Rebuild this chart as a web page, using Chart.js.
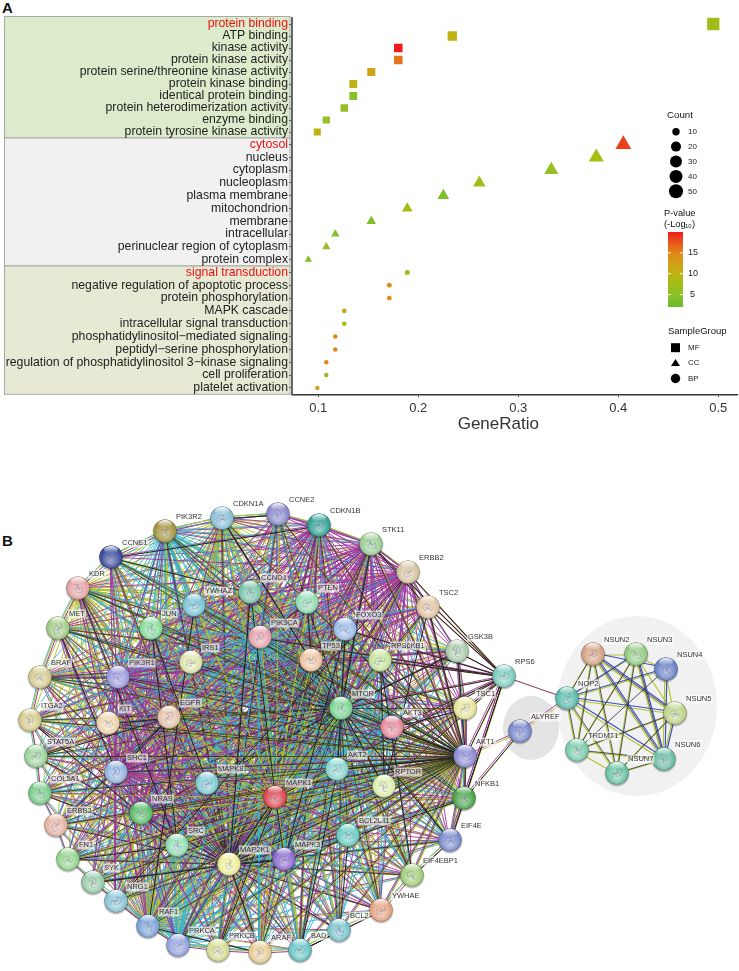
<!DOCTYPE html>
<html>
<head>
<meta charset="utf-8">
<script src="https://cdn.jsdelivr.net/npm/chart.js@4"></script>
<style>
body { margin: 0; background: #fff; font-family: "Liberation Sans", Arial, sans-serif; }
canvas { position: absolute; left: 0; }
.tag { position: absolute; left: 2px; font: bold 15px "Liberation Sans", Arial, sans-serif; color: #111; }
</style>
</head>
<body>
<div class="tag" style="top:-1px">A</div>
<div class="tag" style="top:532px">B</div>
<canvas id="dotChart" width="739" height="445" style="top:0"></canvas>
<canvas id="netChart" width="739" height="501" style="top:470px"></canvas>
<script>
const FONT = '"Liberation Sans", Arial, sans-serif';

// Panel A
const mfTerms = ['protein binding', 'ATP binding', 'kinase activity', 'protein kinase activity', 'protein serine/threonine kinase activity', 'protein kinase binding', 'identical protein binding', 'protein heterodimerization activity', 'enzyme binding', 'protein tyrosine kinase activity'];
const mfRatio = [0.495, 0.234, 0.18, 0.18, 0.153, 0.135, 0.135, 0.126, 0.108, 0.099];
const mfCount = [55, 26, 20, 20, 17, 15, 15, 14, 12, 11];
const mfLogP = [7, 10, 20, 16, 12, 10, 5, 6, 6, 10];

const ccTerms = ['cytosol', 'nucleus', 'cytoplasm', 'nucleoplasm', 'plasma membrane', 'mitochondrion', 'membrane', 'intracellular', 'perinuclear region of cytoplasm', 'protein complex'];
const ccRatio = [0.405, 0.378, 0.333, 0.261, 0.225, 0.189, 0.153, 0.117, 0.108, 0.09];
const ccCount = [45, 42, 37, 29, 25, 21, 17, 13, 12, 10];
const ccLogP = [18.5, 8, 6, 7, 3.5, 8, 3.5, 4, 5.5, 4];

const bpTerms = ['signal transduction', 'negative regulation of apoptotic process', 'protein phosphorylation', 'MAPK cascade', 'intracellular signal transduction', 'phosphatidylinositol\u2212mediated signaling', 'peptidyl\u2212serine phosphorylation', 'regulation of phosphatidylinositol 3\u2212kinase signaling', 'cell proliferation', 'platelet activation'];
const bpRatio = [0.189, 0.171, 0.171, 0.126, 0.126, 0.117, 0.117, 0.108, 0.108, 0.099];
const bpCount = [21, 19, 19, 14, 14, 13, 13, 12, 12, 11];
const bpLogP = [7, 14, 14, 12, 8, 15, 15, 15, 5, 12];

const xTicks = [0.1, 0.2, 0.3, 0.4, 0.5];
const countLegend = [10, 20, 30, 40, 50];
const pLegend = [15, 10, 5];
const groupLegend = ['MF', 'CC', 'BP'];

// colour bar stops, value then colour
const pStops = [[2, [111, 186, 44]], [5, [140, 193, 42]], [8, [168, 188, 20]], [10, [191, 179, 18]], [13, [213, 154, 24]], [15, [224, 133, 26]], [17, [232, 96, 26]], [20, [238, 28, 28]]];

function pColor(v) {
  for (let i = 1; i < pStops.length; i++) {
    if (v <= pStops[i][0]) {
      const a = pStops[i - 1], b = pStops[i];
      const t = (v - a[0]) / (b[0] - a[0]);
      const c = a[1].map((k, j) => Math.round(k + (b[1][j] - k) * t));
      return `rgb(${c[0]},${c[1]},${c[2]})`;
    }
  }
  return 'rgb(238,28,28)';
}

function dotSet(axis, terms, ratio, count, logP, style, radius) {
  return {
    yAxisID: axis,
    pointStyle: style,
    data: terms.map((t, i) => ({ x: ratio[i], y: t })),
    pointRadius: count.map(radius),
    pointBorderWidth: 0,
    pointBackgroundColor: logP.map(pColor),
    showLine: false
  };
}

function termAxis(terms, weight, share) {
  return {
    type: 'category',
    labels: terms,
    offset: true,
    stack: 'terms',
    stackWeight: share,
    weight: weight,
    afterFit: s => { s.width = 292; },
    border: { color: '#666', width: 2 },
    grid: { drawOnChartArea: false, tickLength: 3, color: '#555' },
    ticks: {
      autoSkip: false,
      padding: 1,
      font: { family: FONT, size: 12.25 },
      color: c => c.index === 0 ? '#f01010' : '#222'
    }
  };
}

const panelBands = {
  id: 'panelBands',
  beforeDraw(chart) {
    const ctx = chart.ctx;
    [['yMF', '#dcebcb'], ['yCC', '#f1f1f1'], ['yBP', '#e7e9d4']].forEach(([id, fill]) => {
      const s = chart.scales[id];
      const top = id === 'yMF' ? 16.5 : s.top;
      ctx.fillStyle = fill;
      ctx.strokeStyle = '#a8a8a8';
      ctx.lineWidth = 1;
      ctx.fillRect(4.5, top, 285.5, s.bottom - top);
      ctx.strokeRect(4.5, top, 285.5, s.bottom - top);
    });
  }
};

const sideLegends = {
  id: 'sideLegends',
  afterDraw(chart) {
    const ctx = chart.ctx;
    ctx.save();
    ctx.textBaseline = 'middle';
    ctx.textAlign = 'left';
    ctx.fillStyle = '#111';
    ctx.font = `9.7px ${FONT}`;
    ctx.fillText('Count', 667, 115);
    ctx.font = `9.3px ${FONT}`;
    ctx.fillText('P-value', 664, 213);
    ctx.fillText('(-Log', 664, 224);
    ctx.font = `9.5px ${FONT}`;
    ctx.fillText('SampleGroup', 668, 331);
    ctx.font = `6px ${FONT}`;
    ctx.fillText('10', 685, 226);
    ctx.font = `9.3px ${FONT}`;
    ctx.fillText(')', 692, 224);

    ctx.font = `8px ${FONT}`;
    const rad = [3.7, 5, 6, 6.5, 7];
    countLegend.forEach((n, i) => {
      const y = 131.7 + i * 14.9;
      ctx.fillStyle = '#000';
      ctx.beginPath();
      ctx.arc(676, y, rad[i], 0, Math.PI * 2);
      ctx.fill();
      ctx.fillStyle = '#222';
      ctx.fillText(n, 688, y);
    });

    const grad = ctx.createLinearGradient(0, 232, 0, 307);
    pStops.forEach(s => grad.addColorStop((20 - s[0]) / 18, `rgb(${s[1].join(',')})`));
    ctx.fillStyle = grad;
    ctx.fillRect(668, 232, 15, 75);
    ctx.font = `9px ${FONT}`;
    pLegend.forEach(v => {
      const y = 232 + (20 - v) * 4.17;
      ctx.fillStyle = '#fff';
      ctx.fillRect(668, y - 0.5, 3, 1);
      ctx.fillRect(680, y - 0.5, 3, 1);
      ctx.fillStyle = '#222';
      ctx.fillText(v, v > 9 ? 688 : 690, y);
    });

    ctx.font = `8px ${FONT}`;
    groupLegend.forEach((g, i) => {
      const y = 347.7 + i * 15.4;
      ctx.fillStyle = '#000';
      ctx.beginPath();
      if (g === 'MF') ctx.rect(671, y - 4.5, 9, 9);
      if (g === 'CC') { ctx.moveTo(675.5, y - 4); ctx.lineTo(680, y + 3); ctx.lineTo(671, y + 3); ctx.closePath(); }
      if (g === 'BP') ctx.arc(675.5, y, 4.7, 0, Math.PI * 2);
      ctx.fill();
      ctx.fillStyle = '#222';
      ctx.fillText(g, 688, y);
    });

    ctx.font = `17px ${FONT}`;
    ctx.fillStyle = '#333';
    ctx.textAlign = 'center';
    ctx.fillText('GeneRatio', chart.scales.x.getPixelForValue(0.28), 424);
    ctx.restore();
  }
};

new Chart(document.getElementById('dotChart'), {
  type: 'scatter',
  data: {
    datasets: [
      dotSet('yMF', mfTerms, mfRatio, mfCount, mfLogP, 'rect', c => 2 + 0.9 * Math.sqrt(c)),
      dotSet('yCC', ccTerms, ccRatio, ccCount, ccLogP, 'triangle', c => 1.35 * Math.sqrt(c)),
      dotSet('yBP', bpTerms, bpRatio, bpCount, bpLogP, 'circle', c => 1.4 + 0.24 * Math.sqrt(c))
    ]
  },
  options: {
    responsive: false,
    animation: false,
    layout: { autoPadding: false, padding: { top: 18, right: 2 } },
    plugins: { legend: { display: false }, tooltip: { enabled: false } },
    scales: {
      x: {
        type: 'linear',
        min: 0.0737,
        max: 0.5187,
        afterBuildTicks: s => { s.ticks = xTicks.map(v => ({ value: v })); },
        afterFit: s => { s.height = 50.7; s.paddingLeft = 0; s.paddingRight = 0; },
        border: { color: '#333', width: 1.5 },
        grid: { drawOnChartArea: false, tickLength: 3, color: '#555' },
        ticks: { font: { family: FONT, size: 13 }, color: '#333', padding: 3, callback: v => v.toFixed(1) }
      },
      yMF: termAxis(mfTerms, 3, 120),
      yCC: termAxis(ccTerms, 2, 128),
      yBP: termAxis(bpTerms, 1, 128.3)
    }
  },
  plugins: [panelBands, sideLegends]
});

// Panel B
const genes = ['CCNE1', 'PIK3R2', 'CDKN1A', 'CCNE2', 'CDKN1B', 'STK11', 'ERBB2', 'TSC2', 'GSK3B', 'RPS6', 'KDR', 'MET', 'BRAF', 'ITGA2', 'YWHAZ', 'CCND1', 'PTEN', 'FOXO3', 'PIK3CA', 'TP53', 'JUN', 'IRS1', 'PIK3R1', 'EGFR', 'KIT', 'MTOR', 'RPS6KB1', 'AKT3', 'TSC1', 'AKT1', 'NFKB1', 'EIF4E', 'RPTOR', 'STAT5A', 'COL5A1', 'ERBB3', 'FN1', 'SYK', 'NRG1', 'RAF1', 'PRKCA', 'PRKCB', 'ARAF', 'BAD', 'BCL2', 'YWHAE', 'EIF4EBP1', 'SHC1', 'NRAS', 'SRC', 'MAPK8', 'MAPK1', 'AKT2', 'BCL2L11', 'MAP2K1', 'MAPK3', 'ALYREF', 'NSUN2', 'NSUN3', 'NSUN4', 'NSUN5', 'NSUN6', 'NSUN7', 'TRDMT1', 'NOP2'];
const geneX = [111, 165, 222, 278, 319, 371, 408, 428, 457, 504, 78, 58, 40, 30, 194, 250, 307, 345, 260, 311, 151, 191, 118, 169, 108, 341, 380, 392, 465, 465, 464, 450, 384, 36, 40, 56, 68, 93, 116, 148, 178, 218, 260, 300, 339, 381, 412, 116, 141, 177, 207, 275, 337, 348, 229, 284, 520, 593, 636, 666, 675, 664, 617, 577, 567];
const geneY = [557, 531, 518, 514, 525, 544, 572, 607, 651, 676, 588, 628, 677, 720, 605, 592, 602, 629, 637, 660, 628, 662, 677, 717, 723, 708, 660, 727, 708, 756, 798, 840, 786, 756, 793, 825, 859, 882, 901, 926, 945, 950, 952, 950, 930, 910, 875, 772, 813, 845, 783, 797, 769, 835, 864, 859, 731, 654, 654, 669, 713, 759, 773, 750, 698];
const geneColor = ['#3f4f9e', '#a89a48', '#8fc3d8', '#8e8fd0', '#3aa89a', '#9fd29a', '#d9c8a8', '#e5c9a8', '#b0d0b0', '#80d0c0', '#e8a8a8', '#a8d08a', '#d8d098', '#d8d090', '#80c8d8', '#80c8b0', '#98e0b8', '#a0c0e8', '#e8a8b0', '#f0c8a8', '#90e0a0', '#e0e8b0', '#a0a0e0', '#e8c8b0', '#f0d8b0', '#80d898', '#c8e8a0', '#e890a0', '#e8e8a0', '#9090d8', '#50a850', '#8090d0', '#e0f0b0', '#a0d8a0', '#80d090', '#e8b8a8', '#98d890', '#a0d0b0', '#90c8d8', '#80a8d8', '#98a8e0', '#d8e098', '#e8d098', '#70c8c8', '#80c8d0', '#e8a888', '#a8d080', '#98b8e0', '#60c070', '#98e0b8', '#88d0d8', '#e0505a', '#90d8d0', '#70d0c8', '#f0f0a0', '#9070d0', '#8090d0', '#d8a888', '#98d088', '#7088c8', '#c0d890', '#70c0a8', '#70c8a8', '#80d0b0', '#60c0b0'];

const nsunGenes = ['NSUN2', 'NSUN3', 'NSUN4', 'NSUN5', 'NSUN6', 'NSUN7', 'TRDMT1', 'NOP2'];
const outsideCore = ['RPS6', 'ALYREF'].concat(nsunGenes);
const rimOrder = ['CCNE1', 'PIK3R2', 'CDKN1A', 'CCNE2', 'CDKN1B', 'STK11', 'ERBB2', 'TSC2', 'GSK3B', 'TSC1', 'AKT1', 'NFKB1', 'EIF4E', 'EIF4EBP1', 'YWHAE', 'BCL2', 'BAD', 'ARAF', 'PRKCB', 'PRKCA', 'RAF1', 'NRG1', 'SYK', 'FN1', 'ERBB3', 'COL5A1', 'STAT5A', 'ITGA2', 'BRAF', 'MET', 'KDR'];

const oliveHubs = ['MAPK1', 'AKT1', 'EGFR', 'TP53', 'MTOR', 'RAF1', 'CCND1', 'FOXO3', 'CDKN1A', 'MAPK3', 'SRC', 'PIK3CA', 'MAP2K1', 'PTEN', 'JUN', 'KDR'];
const magentaHubs = ['SHC1', 'PIK3R1', 'ERBB2', 'NRAS', 'TP53', 'MAP2K1', 'STK11', 'CDKN1B', 'MAPK1', 'IRS1', 'AKT1', 'EGFR', 'SRC', 'RAF1', 'PIK3CA', 'MAPK3'];
const cyanHubs = ['PIK3CA', 'AKT2', 'AKT3', 'MAPK3', 'PRKCA', 'PIK3R2', 'RPTOR', 'PIK3R1'];
const darkHubs = ['AKT1', 'MTOR', 'MAP2K1', 'TP53'];
const darkLinks = [['MAPK1', 'MAPK3'], ['MAPK1', 'MAP2K1'], ['MAPK3', 'MAP2K1'], ['MTOR', 'RPTOR'], ['AKT1', 'AKT2'], ['AKT1', 'AKT3'], ['CCND1', 'MAPK1'], ['CCND1', 'MAP2K1'], ['JUN', 'SRC'], ['JUN', 'MAPK8'], ['EGFR', 'ERBB3'], ['EGFR', 'KIT'], ['EGFR', 'STAT5A'], ['EGFR', 'SHC1'], ['KDR', 'SRC'], ['MET', 'SHC1'], ['CCNE1', 'CDKN1B'], ['CCNE1', 'CCND1'], ['CDKN1A', 'TP53'], ['CCNE2', 'CDKN1A'], ['PIK3R1', 'BRAF'], ['TSC2', 'AKT1'], ['TSC2', 'RPTOR'], ['TSC1', 'AKT3'], ['NFKB1', 'AKT1'], ['NFKB1', 'MAPK3'], ['EIF4E', 'EIF4EBP1'], ['EIF4E', 'MTOR'], ['EIF4EBP1', 'RPS6KB1'], ['BCL2', 'BAD'], ['BCL2', 'BCL2L11'], ['BAD', 'AKT2'], ['ARAF', 'RAF1'], ['ARAF', 'MAP2K1'], ['PRKCB', 'MAPK1'], ['FOXO3', 'AKT2'], ['FOXO3', 'MAPK3'], ['STK11', 'MTOR'], ['STK11', 'TSC2'], ['YWHAZ', 'RAF1'], ['YWHAE', 'BAD'], ['PTEN', 'PIK3CA'], ['PTEN', 'TP53'], ['GSK3B', 'AKT1'], ['GSK3B', 'MTOR'], ['RPTOR', 'RPS6KB1'], ['FN1', 'SRC'], ['SYK', 'MAP2K1'], ['NRG1', 'ERBB2'], ['ITGA2', 'SRC']];
const rps6Links = ['GSK3B', 'TSC2', 'TSC1', 'AKT1', 'MTOR', 'RPS6KB1', 'RPTOR', 'AKT3', 'NFKB1', 'EIF4E', 'FOXO3', 'STK11', 'ERBB2', 'PIK3CA', 'MAPK1'];
const bridgeLinks = [['RPS6', 'NOP2'], ['ALYREF', 'AKT1'], ['ALYREF', 'NFKB1'], ['ALYREF', 'NOP2']];

const nsunOlive = [['NSUN2', 'NOP2'], ['NSUN2', 'NSUN3'], ['NSUN2', 'NSUN5'], ['NSUN2', 'NSUN6'], ['NSUN2', 'NSUN7'], ['NSUN2', 'TRDMT1'], ['NSUN3', 'NOP2'], ['NSUN3', 'NSUN4'], ['NSUN3', 'NSUN5'], ['NSUN3', 'NSUN6'], ['NSUN3', 'NSUN7'], ['NSUN3', 'TRDMT1'], ['NSUN4', 'NOP2'], ['NSUN4', 'NSUN5'], ['NSUN4', 'NSUN6'], ['NSUN5', 'NOP2'], ['NSUN5', 'NSUN6'], ['NSUN5', 'NSUN7'], ['NSUN5', 'TRDMT1'], ['NSUN6', 'NSUN7'], ['NSUN6', 'TRDMT1'], ['NSUN6', 'NOP2'], ['NSUN7', 'TRDMT1'], ['NSUN7', 'NOP2'], ['TRDMT1', 'NOP2']];
const nsunDark = [['NSUN2', 'NSUN5'], ['NSUN2', 'NSUN6'], ['NSUN2', 'NSUN7'], ['NSUN2', 'TRDMT1'], ['NSUN3', 'NSUN6'], ['NSUN3', 'NSUN7'], ['NSUN3', 'TRDMT1'], ['NSUN5', 'NSUN7'], ['NSUN5', 'TRDMT1'], ['NSUN6', 'TRDMT1'], ['NSUN6', 'NSUN7'], ['NSUN7', 'NOP2'], ['TRDMT1', 'NOP2'], ['NSUN2', 'NOP2'], ['NSUN4', 'TRDMT1']];
const nsunBlue = [['NSUN2', 'NSUN4'], ['NSUN2', 'NSUN5'], ['NSUN2', 'NSUN6'], ['NSUN3', 'NOP2'], ['NSUN3', 'NSUN6'], ['NSUN4', 'NOP2'], ['NSUN4', 'NSUN6'], ['NSUN5', 'NSUN6'], ['NSUN5', 'NOP2'], ['NSUN6', 'NOP2']];

const coreGenes = genes.filter(g => !outsideCore.includes(g));
const OLIVE = '#b4c226', MAGENTA = '#a0329c', CYAN = '#2fb4d6', DARK = '#222';

function hubPairs(h) {
  return coreGenes.filter(g => g !== h).map(g => [h, g]);
}
function rimPairs() {
  return rimOrder.map((g, i) => [g, rimOrder[(i + 1) % rimOrder.length]]);
}
function toLine(pairs) {
  const pts = [];
  pairs.forEach(([a, b]) => {
    const i = genes.indexOf(a), j = genes.indexOf(b);
    pts.push({ x: geneX[i], y: geneY[i] }, { x: geneX[j], y: geneY[j] }, { x: NaN, y: NaN });
  });
  return pts;
}
function edgeSet(pairs, color, shift, width) {
  return {
    data: toLine(pairs),
    showLine: true,
    spanGaps: false,
    borderColor: color,
    borderWidth: width || 1,
    pointRadius: 0,
    shift: shift
  };
}
// hub fans one by one so the colours mix instead of one covering the rest
function hubFans() {
  const sets = [];
  const most = Math.max(oliveHubs.length, magentaHubs.length, cyanHubs.length);
  for (let i = 0; i < most; i++) {
    if (darkHubs[i]) sets.push(edgeSet(hubPairs(darkHubs[i]), DARK, [0, 0.5], 0.7));
    if (magentaHubs[i]) sets.push(edgeSet(hubPairs(magentaHubs[i]), MAGENTA, [-1, 0], 0.9));
    if (oliveHubs[i]) sets.push(edgeSet(hubPairs(oliveHubs[i]), OLIVE, [1, 1], 0.9));
    if (cyanHubs[i]) sets.push(edgeSet(hubPairs(cyanHubs[i]), CYAN, [-1, -1], 0.9));
  }
  return sets;
}

// glossy ball for a node
function ballSprite(color, seed) {
  const c = document.createElement('canvas');
  c.width = c.height = 28;
  const g = c.getContext('2d');
  g.fillStyle = 'rgba(0,0,0,0.22)';
  g.beginPath();
  g.arc(14, 15, 12.4, 0, Math.PI * 2);
  g.fill();
  g.fillStyle = color;
  g.beginPath();
  g.arc(14, 14, 11.6, 0, Math.PI * 2);
  g.fill();
  const glow = g.createRadialGradient(14, 18, 1, 14, 16, 10);
  glow.addColorStop(0, 'rgba(255,255,255,0.5)');
  glow.addColorStop(1, 'rgba(255,255,255,0)');
  g.fillStyle = glow;
  g.beginPath();
  g.arc(14, 14, 11.6, 0, Math.PI * 2);
  g.fill();
  // protein squiggle inside
  g.save();
  g.translate(14, 14.5);
  g.rotate(seed * 1.3);
  g.scale(0.8 + (seed % 3) * 0.1, 0.8);
  g.strokeStyle = 'rgba(70,60,120,0.32)';
  g.lineWidth = 0.8;
  g.beginPath();
  g.moveTo(-6, -2);
  g.lineTo(-2, -5);
  g.lineTo(0, 1);
  g.lineTo(4, -3);
  g.lineTo(6, 3);
  g.lineTo(1, 5);
  g.lineTo(-3, 2);
  g.lineTo(-1, -3);
  g.lineTo(3, 2);
  g.stroke();
  g.restore();
  const shade = g.createRadialGradient(14, 13, 7, 14, 14, 11.6);
  shade.addColorStop(0, 'rgba(0,0,0,0)');
  shade.addColorStop(0.8, 'rgba(0,0,0,0.04)');
  shade.addColorStop(1, 'rgba(0,0,0,0.36)');
  g.fillStyle = shade;
  g.beginPath();
  g.arc(14, 14, 11.6, 0, Math.PI * 2);
  g.fill();
  const gloss = g.createLinearGradient(0, 3, 0, 10);
  gloss.addColorStop(0, 'rgba(255,255,255,0.9)');
  gloss.addColorStop(1, 'rgba(255,255,255,0)');
  g.fillStyle = gloss;
  g.beginPath();
  g.ellipse(14, 7, 7, 4, 0, 0, Math.PI * 2);
  g.fill();
  return c;
}

const groupHalos = {
  id: 'groupHalos',
  beforeDatasetsDraw(chart) {
    const { ctx, scales: { x, y } } = chart;
    ctx.fillStyle = '#f1f1f1';
    ctx.beginPath();
    ctx.ellipse(x.getPixelForValue(637), y.getPixelForValue(706), 80, 90, 0, 0, Math.PI * 2);
    ctx.fill();
    ctx.fillStyle = '#e4e4e4';
    ctx.beginPath();
    ctx.ellipse(x.getPixelForValue(531), y.getPixelForValue(728), 28, 32, 0, 0, Math.PI * 2);
    ctx.fill();
  }
};

const edgeShift = {
  id: 'edgeShift',
  beforeDatasetDraw(chart, args) {
    const s = chart.data.datasets[args.index].shift;
    if (!s) return;
    chart.ctx.save();
    chart.ctx.translate(s[0], s[1]);
  },
  afterDatasetDraw(chart, args) {
    if (chart.data.datasets[args.index].shift) chart.ctx.restore();
  }
};

const geneLabels = {
  id: 'geneLabels',
  afterDatasetsDraw(chart) {
    const { ctx, scales: { x, y } } = chart;
    ctx.save();
    ctx.font = `7.5px ${FONT}`;
    ctx.textAlign = 'left';
    ctx.textBaseline = 'middle';
    genes.forEach((g, i) => {
      const px = x.getPixelForValue(geneX[i]) + 11;
      const py = y.getPixelForValue(geneY[i]) - 14;
      const w = ctx.measureText(g).width;
      ctx.fillStyle = 'rgba(255,255,255,0.62)';
      ctx.fillRect(px - 1, py - 4.5, w + 2, 9);
      ctx.fillStyle = '#333';
      ctx.fillText(g, px, py);
    });
    ctx.restore();
  }
};

const rps6Pairs = rps6Links.map(g => ['RPS6', g]);

new Chart(document.getElementById('netChart'), {
  type: 'scatter',
  data: {
    datasets: [
      {
        data: genes.map((g, i) => ({ x: geneX[i], y: geneY[i] })),
        pointStyle: genes.map((g, i) => ballSprite(geneColor[i], i)),
        pointRadius: 11,
        showLine: false
      },
      edgeSet(darkLinks.concat(rps6Pairs).concat(bridgeLinks.slice(2, 3)), DARK, [0.5, 1], 1),
      edgeSet(nsunDark, '#2a2a3a', [0, 0], 0.8),
      edgeSet(nsunBlue, '#3a52c8', [1, -1], 1.2),
      edgeSet(bridgeLinks.concat(rps6Pairs), MAGENTA, [-1, 0], 0.9),
      edgeSet(rimPairs(), MAGENTA, [1, 1], 1),
      edgeSet(bridgeLinks.concat(rps6Pairs), OLIVE, [1, 1], 0.9),
      edgeSet(nsunOlive, '#b4c42a', [-1, 1], 1.2),
      edgeSet(rimPairs(), OLIVE, [0, -1], 1),
      edgeSet(rimPairs(), CYAN, [-1, -1], 0.9)
    ].concat(hubFans())
  },
  options: {
    responsive: false,
    animation: false,
    layout: { autoPadding: false, padding: 0 },
    plugins: { legend: { display: false }, tooltip: { enabled: false } },
    scales: {
      x: { type: 'linear', display: false, min: 0, max: 739 },
      y: { type: 'linear', display: false, min: 470, max: 971, reverse: true }
    }
  },
  plugins: [groupHalos, edgeShift, geneLabels]
});
</script>
</body>
</html>
